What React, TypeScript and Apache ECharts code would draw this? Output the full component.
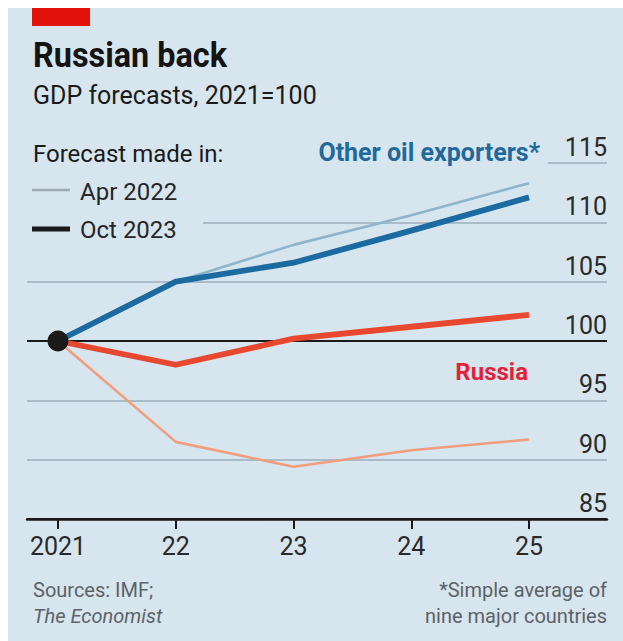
import React, { useEffect, useRef } from "react";
import * as echarts from "echarts";

// ---- data ----
const years = [2021, 2022, 2023, 2024, 2025];
const yearLabels = ["2021", "22", "23", "24", "25"];
const oilApr2022 = [100, 105, 108.1, 110.6, 113.3];
const oilOct2023 = [100, 105, 106.6, 109.3, 112.1];
const russiaApr2022 = [100, 91.5, 89.4, 90.8, 91.7];
const russiaOct2023 = [100, 98, 100.2, 101.2, 102.2];
const baseYear = [2021];
const baseValue = [100];
const yMin = 85;
const yMax = 115;
const yStep = 5;
const xMin = 2020.737;
const xMax = 2025.662;

const BG = "#d7e5ee";
const GRID = "#a9bcc8";
const INK = "#1a1a1a";
const FONT = "Roboto, 'Liberation Sans', sans-serif";

const pairs = (vals: number[]) => years.map((y, i) => [y, vals[i]]);

export default function App() {
  const ref = useRef<HTMLDivElement>(null);
  useEffect(() => {
    if (!ref.current) return;
    const chart = echarts.init(ref.current, null, { renderer: "svg" });
    const option: any = {
      animation: false,
      backgroundColor: BG,
      grid: { left: 19, right: 16, top: 155, bottom: 122, containLabel: false, outerBoundsMode: "none" },
      xAxis: {
        type: "value",
        min: xMin,
        max: xMax,
        axisLine: { show: true, onZero: false, lineStyle: { color: INK, width: 2.5 } },
        axisTick: { show: true, customValues: years, length: 10, lineStyle: { color: INK, width: 2 } },
        axisLabel: {
          customValues: years,
          formatter: (v: number) => {
            const i = years.indexOf(Math.round(v));
            return i >= 0 ? yearLabels[i] : "";
          },
          margin: 15,
          fontSize: 25,
          color: "#2a2a2a",
          fontFamily: FONT,
        },
        splitLine: { show: false },
      },
      yAxis: {
        type: "value",
        position: "right",
        min: yMin,
        max: yMax,
        interval: yStep,
        axisLine: { show: false },
        axisTick: { show: false },
        axisLabel: {
          inside: true,
          margin: 0,
          align: "right",
          verticalAlign: "bottom",
          padding: [0, 0, 3, 0],
          fontSize: 25,
          color: "#2a2a2a",
          fontFamily: FONT,
          showMinLabel: true,
          showMaxLabel: true,
        },
        splitLine: {
          show: true,
          lineStyle: { color: [INK, GRID, GRID, INK, GRID, GRID, GRID], width: 1.8 },
        },
      },
      series: [
        {
          type: "line",
          data: pairs(russiaApr2022),
          symbol: "none",
          lineStyle: { color: "#f29d7e", width: 2.6, join: "round" },
          z: 2,
        },
        {
          type: "line",
          data: pairs(oilApr2022),
          symbol: "none",
          lineStyle: { color: "#8db5cb", width: 2.6, join: "round" },
          z: 2,
        },
        {
          type: "line",
          data: pairs(russiaOct2023),
          symbol: "none",
          lineStyle: { color: "#e8482f", width: 5.8, join: "round" },
          z: 3,
        },
        {
          type: "line",
          data: pairs(oilOct2023),
          symbol: "none",
          lineStyle: { color: "#1b6aa0", width: 5.8, join: "round" },
          z: 3,
        },
        {
          type: "scatter",
          data: baseYear.map((y, i) => [y, baseValue[i]]),
          symbol: "circle",
          symbolSize: 21,
          itemStyle: { color: INK, opacity: 1 },
          emphasis: { disabled: true },
          z: 5,
        },
      ],
      graphic: {
        elements: [
          { type: "rect", z: 1, shape: { x: 19, y: 150, width: 521, height: 10 }, style: { fill: BG } },
          { type: "rect", z: 1, shape: { x: 19, y: 209, width: 176, height: 10 }, style: { fill: BG } },
          { type: "rect", z: 10, shape: { x: 24, y: 0, width: 58, height: 18 }, style: { fill: "#e3120b" } },
          {
            type: "text", z: 10, x: 25, y: 46, scaleX: 0.9,
            style: { text: "Russian back", fill: "#141414", font: `bold 36px ${FONT}`, verticalAlign: "middle" },
          },
          {
            type: "text", z: 10, x: 25, y: 87,
            style: { text: "GDP forecasts, 2021=100", fill: "#1a1a1a", font: `25px ${FONT}`, verticalAlign: "middle" },
          },
          {
            type: "text", z: 10, x: 25, y: 146,
            style: { text: "Forecast made in:", fill: "#1a1a1a", font: `24px ${FONT}`, verticalAlign: "middle" },
          },
          { type: "line", z: 10, shape: { x1: 24, y1: 182, x2: 62, y2: 182 }, style: { stroke: "#9ea9b1", lineWidth: 2.5 } },
          {
            type: "text", z: 10, x: 72, y: 184,
            style: { text: "Apr 2022", fill: "#262626", font: `24px ${FONT}`, verticalAlign: "middle" },
          },
          { type: "line", z: 10, shape: { x1: 24, y1: 221, x2: 62, y2: 221 }, style: { stroke: INK, lineWidth: 5 } },
          {
            type: "text", z: 10, x: 72, y: 222,
            style: { text: "Oct 2023", fill: "#262626", font: `24px ${FONT}`, verticalAlign: "middle" },
          },
          {
            type: "text", z: 10, x: 532, y: 144,
            style: { text: "Other oil exporters*", fill: "#1f6a9b", font: `bold 25px ${FONT}`, align: "right", verticalAlign: "middle" },
          },
          {
            type: "text", z: 10, x: 520, y: 364,
            style: { text: "Russia", fill: "#e3223a", font: `bold 24px ${FONT}`, align: "right", verticalAlign: "middle" },
          },
          {
            type: "text", z: 10, x: 25, y: 582,
            style: { text: "Sources: IMF;", fill: "#5c6268", font: `20px ${FONT}`, verticalAlign: "middle" },
          },
          {
            type: "text", z: 10, x: 25, y: 608,
            style: { text: "The Economist", fill: "#5c6268", font: `italic 20px ${FONT}`, verticalAlign: "middle" },
          },
          {
            type: "text", z: 10, x: 599, y: 582,
            style: { text: "*Simple average of", fill: "#5c6268", font: `20px ${FONT}`, align: "right", verticalAlign: "middle" },
          },
          {
            type: "text", z: 10, x: 599, y: 608,
            style: { text: "nine major countries", fill: "#5c6268", font: `20px ${FONT}`, align: "right", verticalAlign: "middle" },
          },
        ],
      },
    };
    chart.setOption(option);
    return () => chart.dispose();
  }, []);
  return (
    <div
      ref={ref}
      style={{ position: "fixed", left: 8, top: 8, width: 615, height: 633 }}
    />
  );
}
